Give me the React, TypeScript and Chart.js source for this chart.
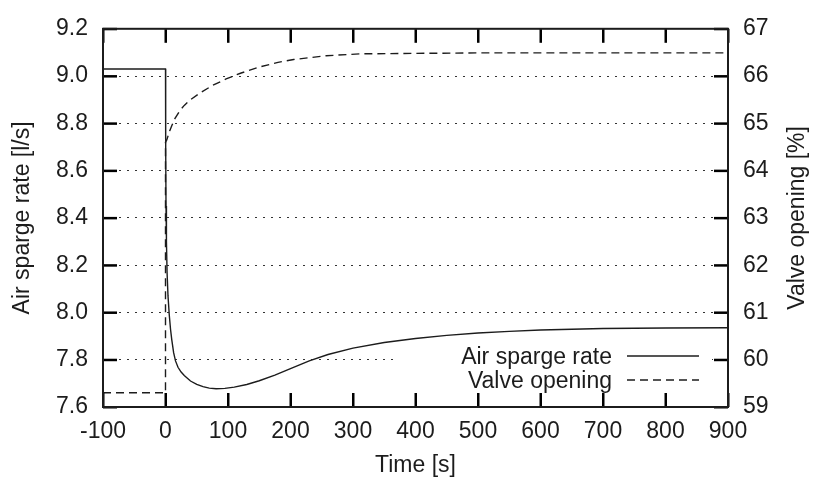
import React, { useEffect, useRef } from "react";
import { Chart, registerables } from "chart.js";

Chart.register(...registerables);

// Air sparge rate [l/s] (left axis)
const airTime = [-100, 0, 0.3, 0.8, 1.5, 2.5, 4, 6, 8, 10, 13, 16, 20, 25, 30, 40, 50, 60, 70, 81, 95, 110, 130, 150, 175, 200, 230, 260, 300, 350, 400, 450, 500, 550, 600, 700, 800, 900];
const airRate = [9.03, 9.03, 8.7, 8.45, 8.3, 8.17, 8.07, 7.99, 7.93, 7.885, 7.83, 7.795, 7.768, 7.748, 7.733, 7.71, 7.696, 7.686, 7.68, 7.677, 7.679, 7.684, 7.695, 7.711, 7.735, 7.762, 7.795, 7.822, 7.849, 7.873, 7.89, 7.903, 7.913, 7.92, 7.926, 7.932, 7.934, 7.935];

// Valve opening [%] (right axis)
const valveTime = [-100, 0, 0, 2, 4, 7, 10, 15, 23, 30, 40, 55, 75, 97, 120, 150, 180, 205, 257, 311, 400, 500, 900];
const valveOpening = [59.3, 59.3, 64.6, 64.65, 64.73, 64.85, 64.95, 65.1, 65.27, 65.38, 65.5, 65.64, 65.8, 65.94, 66.06, 66.19, 66.29, 66.35, 66.43, 66.47, 66.48, 66.49, 66.49];

// Axis tick values
const xTickValues = [-100, 0, 100, 200, 300, 400, 500, 600, 700, 800, 900];
const yLeftTickValues = [7.6, 7.8, 8.0, 8.2, 8.4, 8.6, 8.8, 9.0, 9.2];
const yRightTickValues = [59, 60, 61, 62, 63, 64, 65, 66, 67];

const seriesLabels = ["Air sparge rate", "Valve opening"];
const xTitle = "Time [s]";
const yLeftTitle = "Air sparge rate [l/s]";
const yRightTitle = "Valve opening [%]";

const FONT_FAMILY = "'Liberation Sans', Arial, Helvetica, sans-serif";
const FONT_SIZE = 23;
const INK = "#1c1c1c";
const TICK_INK = "#000000";
const VALVE_DASH = [8, 5];

export default function App() {
  const ref = useRef<HTMLCanvasElement>(null);

  useEffect(() => {
    const canvas = ref.current;
    if (!canvas) return;

    const decor = {
      id: "decor",
      beforeDatasetsDraw(chart: any) {
        const ctx = chart.ctx;
        const a = chart.chartArea;
        // legend box (inside plot, lower right)
        const bx0 = a.left + 290;
        const bx1 = a.right - 16;
        const by0 = a.bottom - 71;
        const by1 = a.bottom - 13;
        ctx.save();
        ctx.fillStyle = "#ffffff";
        ctx.fillRect(bx0, by0, bx1 - bx0, by1 - by0);
        ctx.font = `${FONT_SIZE}px ${FONT_FAMILY}`;
        ctx.fillStyle = INK;
        ctx.textAlign = "right";
        ctx.textBaseline = "alphabetic";
        const textRight = a.right - 116;
        const rows = [a.bottom - 43, a.bottom - 19];
        chart.data.datasets.forEach((ds: any, i: number) => {
          ctx.fillText(ds.label, textRight, rows[i]);
          ctx.beginPath();
          ctx.strokeStyle = INK;
          ctx.lineWidth = 1.4;
          ctx.setLineDash(ds.borderDash || []);
          const ly = rows[i] - 8;
          ctx.moveTo(textRight + 15, ly);
          ctx.lineTo(textRight + 87, ly);
          ctx.stroke();
          ctx.setLineDash([]);
        });
        ctx.restore();
      },
      afterDraw(chart: any) {
        const ctx = chart.ctx;
        const a = chart.chartArea;
        const TL = 14;
        const TW = 2.5;
        ctx.save();
        ctx.setLineDash([]);
        ctx.globalAlpha = 1;
        ctx.globalCompositeOperation = "source-over";
        ctx.fillStyle = TICK_INK;
        // inward tick marks on all four sides
        const xs = chart.scales.x;
        for (const v of xTickValues) {
          const px = xs.getPixelForValue(v);
          ctx.fillRect(px - 1, a.bottom - TL, TW, TL);
          ctx.fillRect(px - 1, a.top, TW, TL);
        }
        const yl = chart.scales.y;
        for (const v of yLeftTickValues) {
          const py = yl.getPixelForValue(v);
          ctx.fillRect(a.left, py - 1, TL, TW);
        }
        const yr = chart.scales.y1;
        for (const v of yRightTickValues) {
          const py = yr.getPixelForValue(v);
          ctx.fillRect(a.right - TL, py - 1, TL, TW);
        }
        // frame
        ctx.strokeStyle = INK;
        ctx.lineWidth = 2;
        ctx.strokeRect(a.left, a.top, a.right - a.left, a.bottom - a.top);
        // axis titles
        ctx.fillStyle = INK;
        ctx.font = `${FONT_SIZE}px ${FONT_FAMILY}`;
        ctx.textAlign = "center";
        ctx.textBaseline = "middle";
        ctx.fillText(xTitle, (a.left + a.right) / 2, a.bottom + 59);
        const cy = (a.top + a.bottom) / 2;
        ctx.save();
        ctx.translate(23, cy);
        ctx.rotate(-Math.PI / 2);
        ctx.fillText(yLeftTitle, 0, 0);
        ctx.restore();
        ctx.save();
        ctx.translate(chart.width - 15, cy);
        ctx.rotate(-Math.PI / 2);
        ctx.fillText(yRightTitle, 0, 0);
        ctx.restore();
        ctx.restore();
      },
    };

    const font = { family: FONT_FAMILY, size: FONT_SIZE };

    const chart = new Chart(canvas, {
      type: "line",
      data: {
        datasets: [
          {
            label: seriesLabels[0],
            data: airTime.map((t, i) => ({ x: t, y: airRate[i] })),
            yAxisID: "y",
            borderColor: INK,
            borderWidth: 1.4,
            pointRadius: 0,
            tension: 0,
            fill: false,
          },
          {
            label: seriesLabels[1],
            data: valveTime.map((t, i) => ({ x: t, y: valveOpening[i] })),
            yAxisID: "y1",
            borderColor: INK,
            borderWidth: 1.4,
            borderDash: VALVE_DASH,
            pointRadius: 0,
            tension: 0,
            fill: false,
          },
        ],
      },
      options: {
        responsive: false,
        animation: false,
        devicePixelRatio: 1,
        layout: { padding: { top: 24, left: 0, right: 0, bottom: 0 } },
        plugins: { legend: { display: false }, tooltip: { enabled: false } },
        scales: {
          x: {
            type: "linear",
            min: xTickValues[0],
            max: xTickValues[xTickValues.length - 1],
            ticks: { stepSize: 100, padding: 11, font, color: INK, maxRotation: 0 },
            grid: { display: false, drawTicks: false },
            border: { display: false },
            afterFit: (s: any) => {
              s.height = 71;
            },
          },
          y: {
            type: "linear",
            position: "left",
            min: yLeftTickValues[0],
            max: yLeftTickValues[yLeftTickValues.length - 1],
            ticks: {
              stepSize: 0.2,
              padding: 15,
              font,
              color: INK,
              callback: (v: any) => Number(v).toFixed(1),
            },
            grid: {
              drawTicks: false,
              lineWidth: 1,
              color: (c: any) => (c.index === 0 || c.index === yLeftTickValues.length - 1 ? "rgba(0,0,0,0)" : "#333"),
            },
            border: { display: false, dash: [2, 6] },
            afterFit: (s: any) => {
              s.width = 103;
            },
          },
          y1: {
            type: "linear",
            position: "right",
            min: yRightTickValues[0],
            max: yRightTickValues[yRightTickValues.length - 1],
            ticks: { stepSize: 1, padding: 15, font, color: INK },
            grid: { display: false, drawTicks: false },
            border: { display: false },
            afterFit: (s: any) => {
              s.width = 85;
            },
          },
        },
      },
      plugins: [decor],
    } as any);

    return () => chart.destroy();
  }, []);

  return (
    <div style={{ position: "absolute", left: 0, top: 0, width: 813, height: 478, background: "#fff" }}>
      <canvas ref={ref} width={813} height={478} style={{ display: "block" }} />
    </div>
  );
}
